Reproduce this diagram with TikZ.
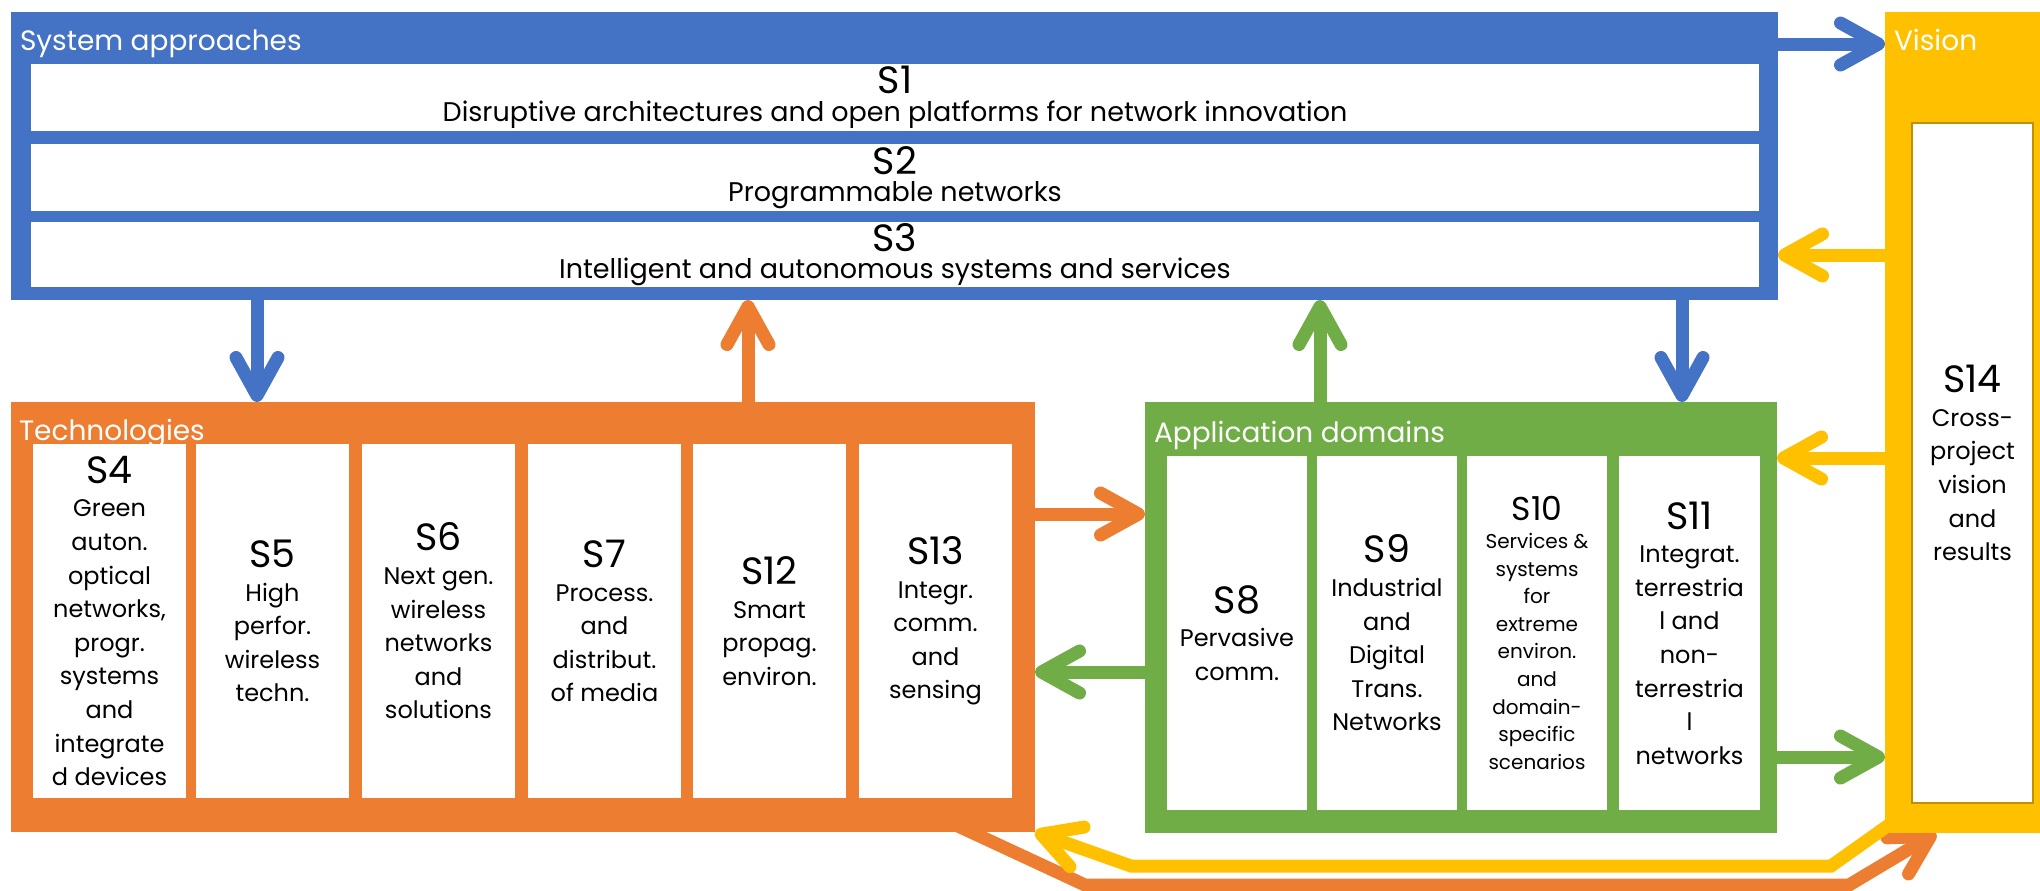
\documentclass[tikz,border=0pt]{standalone}
\usepackage{fontspec}
\setmainfont{Poppins}
\usetikzlibrary{arrows.meta,backgrounds}
\definecolor{cblue}{HTML}{4472C4}
\definecolor{corange}{HTML}{ED7D31}
\definecolor{cgreen}{HTML}{70AD47}
\definecolor{cyellow}{HTML}{FFC000}
\definecolor{cgold}{HTML}{BF9000}
\newcommand\mydesc{\fontsize{12pt}{16.8pt}\selectfont}
\newcommand\mywidedesc{\fontsize{13.5pt}{16.8pt}\selectfont}
\newcommand\mynum{\fontsize{19pt}{20pt}\selectfont}
\newcommand\mysmalldesc{\fontsize{10pt}{13.8pt}\selectfont}
\newcommand\mysmallnum{\fontsize{16.5pt}{18pt}\selectfont}
\newcommand\mytitle{\fontsize{14pt}{16pt}\selectfont}
\begin{document}
\begin{tikzpicture}[x=0.5pt,y=-0.5pt,
  frame/.style={rectangle, inner sep=0pt, outer sep=0pt, anchor=north west},
  wbox/.style={rectangle, fill=white, inner sep=0pt, outer sep=0pt, anchor=north west, align=center, font=\mydesc, text=black},
  colbox/.style={wbox, minimum width=76.5pt, minimum height=177pt},
  appbox/.style={wbox, minimum width=70pt, minimum height=177pt},
  widebox/.style={wbox, font=\mywidedesc, minimum width=864pt},
  title/.style={inner sep=0pt, outer sep=0pt, text=white, font=\mytitle, anchor=base west},
  conn/.style={line width=6.5pt, line join=miter, -{Straight Barb[length=19pt, width=21pt, round]}}]
\useasboundingbox (0,0) rectangle (2040,890);

% frames
\node[frame, fill=cblue, minimum width=883.5pt, minimum height=144pt] (sys) at (11,12) {};
\node[frame, fill=cyellow, minimum width=77.5pt, minimum height=410.5pt] (vis) at (1885,12) {};
\node[frame, fill=corange, minimum width=512pt, minimum height=215pt] (tech) at (11,402) {};
\node[frame, fill=cgreen, minimum width=316pt, minimum height=215.5pt] (app) at (1145,402) {};

% titles
\node[title] (tsys) at (20,50) {System approaches};
\node[title] (tvis) at (1894,50) {Vision};
\node[title] (ttech) at (19,440) {Technologies};
\node[title] (tapp) at (1154,442) {Application domains};

% system approaches
\node[widebox, minimum height=33.5pt] (s1) at (31,64) {{\mynum S1}\\[-3pt]Disruptive architectures and open platforms for network innovation};
\node[widebox, minimum height=33.5pt] (s2) at (31,144) {{\mynum S2}\\[-3pt]Programmable networks};
\node[widebox, minimum height=32.5pt] (s3) at (31,222) {{\mynum S3}\\[-3pt]Intelligent and autonomous systems and services};

% technologies
\node[colbox] (s4) at (33,444) {{\mynum S4}\\Green\\auton.\\optical\\networks,\\progr.\\systems\\and\\integrate\\d devices};
\node[colbox] (s5) at (196,444) {{\mynum S5}\\High\\perfor.\\wireless\\techn.};
\node[colbox] (s6) at (362,444) {{\mynum S6}\\Next gen.\\wireless\\networks\\and\\solutions};
\node[colbox] (s7) at (528,444) {{\mynum S7}\\Process.\\and\\distribut.\\of media};
\node[colbox] (s12) at (693,444) {{\mynum S12}\\Smart\\propag.\\environ.};
\node[colbox] (s13) at (859,444) {{\mynum S13}\\Integr.\\comm.\\and\\sensing};

% application domains
\node[appbox] (s8) at (1167,456) {{\mynum S8}\\Pervasive\\comm.};
\node[appbox] (s9) at (1317,456) {{\mynum S9}\\Industrial\\and\\Digital\\Trans.\\Networks};
\node[appbox, font=\mysmalldesc] (s10) at (1467,456) {{\mysmallnum S10}\\Services \&\\systems\\for\\extreme\\environ.\\and\\domain-\\specific\\scenarios};
\node[appbox, minimum width=70.5pt] (s11) at (1619,456) {{\mynum S11}\\Integrat.\\terrestria\\l and\\non-\\terrestria\\l\\networks};

% vision
\node[wbox, draw=cgold, line width=0.8pt, minimum width=60.5pt, minimum height=340pt] (s14) at (1912,123) {{\mynum S14}\\Cross-\\project\\vision\\and\\results};

% helper coordinates
\coordinate (rowVision) at (0,44);
\coordinate (rowS3) at (0,255);
\coordinate (rowAppIn) at (0,458);
\coordinate (rowTechOut) at (0,514);
\coordinate (rowAppOut) at (0,672);
\coordinate (rowVisIn) at (0,757);
\coordinate (colA) at (257,0);
\coordinate (colB) at (748,0);
\coordinate (colC) at (1320,0);
\coordinate (colD) at (1682,0);
\coordinate (oStart) at (958,826);
\coordinate (oB1) at (1085,885);
\coordinate (oB2) at (1849,885);
\coordinate (oEnd) at (1936,0);
\coordinate (yStart) at (1893,822);
\coordinate (yB1) at (1831,866);
\coordinate (yB2) at (1131,866);

\begin{pgfonlayer}{background}
\draw[conn, cblue] (sys.east |- rowVision) -- (vis.west |- rowVision);
\draw[conn, cyellow] (vis.west |- rowS3) -- (sys.east |- rowS3);
\draw[conn, cblue] (sys.south -| colA) -- (tech.north -| colA);
\draw[conn, corange] (tech.north -| colB) -- (sys.south -| colB);
\draw[conn, cgreen] (app.north -| colC) -- (sys.south -| colC);
\draw[conn, cblue] (sys.south -| colD) -- (app.north -| colD);
\draw[conn, corange] (tech.east |- rowTechOut) -- (app.west |- rowTechOut);
\draw[conn, cgreen] (app.west |- rowAppOut) -- (tech.east |- rowAppOut);
\draw[conn, cyellow] (vis.west |- rowAppIn) -- (app.east |- rowAppIn);
\draw[conn, cgreen] (app.east |- rowVisIn) -- (vis.west |- rowVisIn);
\draw[conn, corange] (oStart) -- (oB1) -- (oB2) -- (vis.south -| oEnd);
\draw[conn, cyellow] (yStart) -- (yB1) -- (yB2) -- (tech.south east);
\end{pgfonlayer}
\end{tikzpicture}
\end{document}
